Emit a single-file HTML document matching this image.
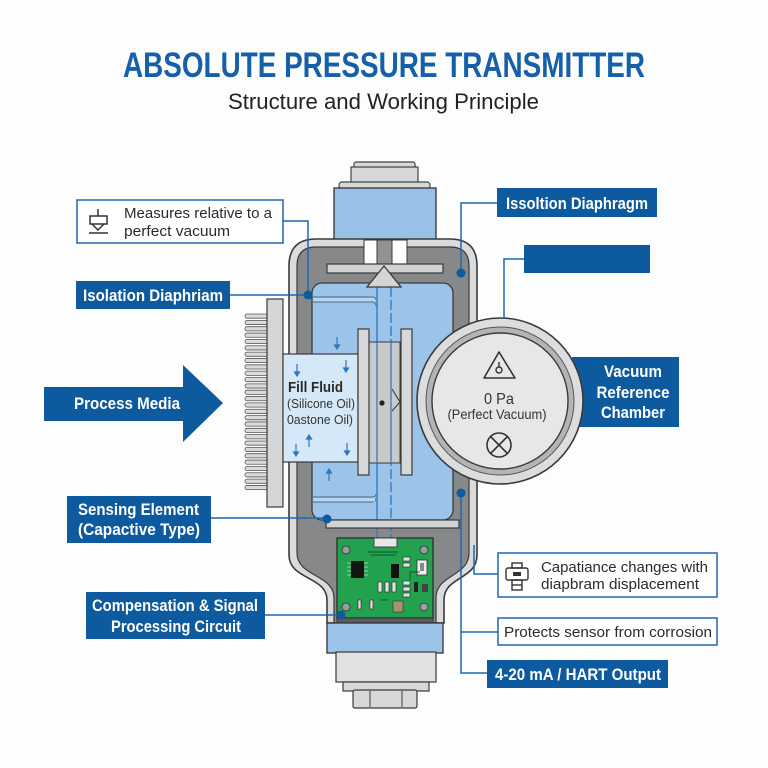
<!DOCTYPE html>
<html><head><meta charset="utf-8"><style>
html,body{margin:0;padding:0;background:#fff;}
svg{display:block;}
text{font-family:"Liberation Sans",sans-serif;}
</style></head><body>
<svg width="768" height="768" viewBox="0 0 768 768" xmlns="http://www.w3.org/2000/svg">
<rect width="768" height="768" fill="#fdfdfd"/>

<!-- Title -->
<text x="123" y="77" font-size="35" font-weight="bold" fill="#1560aa" textLength="522" lengthAdjust="spacingAndGlyphs">ABSOLUTE PRESSURE TRANSMITTER</text>
<text x="228" y="109" font-size="22" fill="#222" textLength="311" lengthAdjust="spacingAndGlyphs">Structure and Working Principle</text>

<!-- Vacuum reference chamber label box (behind circle) -->
<rect x="572" y="357" width="107" height="70" fill="#0d5a9e"/>
<text x="633" y="377" font-size="17" font-weight="bold" fill="#fff" text-anchor="middle" textLength="58" lengthAdjust="spacingAndGlyphs">Vacuum</text>
<text x="633" y="398" font-size="17" font-weight="bold" fill="#fff" text-anchor="middle" textLength="73" lengthAdjust="spacingAndGlyphs">Reference</text>
<text x="633" y="418" font-size="17" font-weight="bold" fill="#fff" text-anchor="middle" textLength="64" lengthAdjust="spacingAndGlyphs">Chamber</text>

<!-- Top cap -->
<rect x="354" y="162" width="61" height="7" rx="2" fill="#d6d8da" stroke="#444" stroke-width="1.2"/>
<rect x="351" y="167" width="67" height="16" fill="#d6d8da" stroke="#444" stroke-width="1.2"/>
<rect x="339" y="182" width="91" height="7" rx="3" fill="#d6d8da" stroke="#444" stroke-width="1.2"/>
<rect x="334" y="188" width="102" height="52" fill="#97c1e6" stroke="#333" stroke-width="1.3"/>

<!-- Housing -->
<path d="M289,266 Q289,239 316,239 L450,239 Q477,239 477,266 L477,555 C477,580 444,576 444,600 L444,623 L327,623 L327,600 C327,576 289,580 289,555 Z" fill="#d9dbdd" stroke="#3a3a3a" stroke-width="1.6"/>
<path d="M297,266 Q297,247 316,247 L450,247 Q469,247 469,266 L469,553 C469,577 436,574 436,598 L436,623 L334,623 L334,598 C334,574 297,577 297,553 Z" fill="#86888a" stroke="#3a3a3a" stroke-width="1.2"/>

<!-- slots -->
<rect x="377" y="240" width="15" height="24" fill="#909294" stroke="#3a3a3a" stroke-width="1"/>
<rect x="364" y="240" width="13" height="24" fill="#fff" stroke="#3a3a3a" stroke-width="1"/>
<rect x="392" y="240" width="15" height="24" fill="#fff" stroke="#3a3a3a" stroke-width="1"/>
<rect x="327" y="264" width="116" height="9" fill="#d0d2d4" stroke="#3a3a3a" stroke-width="1.2"/>

<!-- Chamber -->
<rect x="312" y="283" width="141" height="237" rx="10" fill="#9cc4e8" stroke="#3a3a3a" stroke-width="1.3"/>
<path d="M313,297 L372,297 Q376,297 376,300" fill="none" stroke="#4a6a88" stroke-width="0.9"/>
<path d="M313,302 L372,302 Q376,302 376,306" fill="none" stroke="#4a6a88" stroke-width="0.9"/>
<rect x="313" y="298" width="62" height="3.5" fill="#b8d6ef"/>
<path d="M313,497 L372,497 Q376,497 376,494" fill="none" stroke="#4a6a88" stroke-width="0.9"/>
<path d="M313,502 L372,502 Q376,502 376,498" fill="none" stroke="#4a6a88" stroke-width="0.9"/>
<rect x="313" y="498" width="62" height="3.5" fill="#b8d6ef"/>

<!-- vertical signal lines -->
<line x1="377" y1="287" x2="377" y2="538" stroke="#2a78c0" stroke-width="1.3"/>
<line x1="391" y1="287" x2="391" y2="538" stroke="#2a78c0" stroke-width="1.3" stroke-dasharray="10,3"/>

<polygon points="384,266 367,287 401,287" fill="#d3d5d7" stroke="#3a3a3a" stroke-width="1.3"/>

<!-- bottom bar -->
<rect x="326" y="520" width="133" height="8" fill="#d0d2d4" stroke="#3a3a3a" stroke-width="1.2"/>

<!-- Fins -->
<g fill="#d8dadc" stroke="#555" stroke-width="0.8">
<rect x="245" y="314" width="24" height="4.2" rx="2"/>
<rect x="245" y="320.35" width="24" height="4.2" rx="2"/>
<rect x="245" y="326.7" width="24" height="4.2" rx="2"/>
<rect x="245" y="333.05" width="24" height="4.2" rx="2"/>
<rect x="245" y="339.4" width="24" height="4.2" rx="2"/>
<rect x="245" y="345.75" width="24" height="4.2" rx="2"/>
<rect x="245" y="352.1" width="24" height="4.2" rx="2"/>
<rect x="245" y="358.45" width="24" height="4.2" rx="2"/>
<rect x="245" y="364.8" width="24" height="4.2" rx="2"/>
<rect x="245" y="371.15" width="24" height="4.2" rx="2"/>
<rect x="245" y="377.5" width="24" height="4.2" rx="2"/>
<rect x="245" y="383.85" width="24" height="4.2" rx="2"/>
<rect x="245" y="390.2" width="24" height="4.2" rx="2"/>
<rect x="245" y="396.55" width="24" height="4.2" rx="2"/>
<rect x="245" y="402.9" width="24" height="4.2" rx="2"/>
<rect x="245" y="409.25" width="24" height="4.2" rx="2"/>
<rect x="245" y="415.6" width="24" height="4.2" rx="2"/>
<rect x="245" y="421.95" width="24" height="4.2" rx="2"/>
<rect x="245" y="428.3" width="24" height="4.2" rx="2"/>
<rect x="245" y="434.65" width="24" height="4.2" rx="2"/>
<rect x="245" y="441" width="24" height="4.2" rx="2"/>
<rect x="245" y="447.35" width="24" height="4.2" rx="2"/>
<rect x="245" y="453.7" width="24" height="4.2" rx="2"/>
<rect x="245" y="460.05" width="24" height="4.2" rx="2"/>
<rect x="245" y="466.4" width="24" height="4.2" rx="2"/>
<rect x="245" y="472.75" width="24" height="4.2" rx="2"/>
<rect x="245" y="479.1" width="24" height="4.2" rx="2"/>
<rect x="245" y="485.45" width="24" height="4.2" rx="2"/>
</g>
<rect x="267" y="299" width="16" height="208" fill="#d4d6d8" stroke="#3a3a3a" stroke-width="1.2"/>

<!-- Fill fluid panel -->
<rect x="283" y="354" width="75" height="108" fill="#d5e8f7" stroke="#3a3a3a" stroke-width="1.2"/>
<text x="288" y="392" font-size="15" font-weight="bold" fill="#2a2a2a" textLength="55" lengthAdjust="spacingAndGlyphs">Fill Fluid</text>
<text x="287" y="408" font-size="13" fill="#333" textLength="68" lengthAdjust="spacingAndGlyphs">(Silicone Oil)</text>
<text x="287" y="424" font-size="13" fill="#333" textLength="66" lengthAdjust="spacingAndGlyphs">0astone Oil)</text>

<!-- small flow arrows -->
<g stroke="#2a78c0" stroke-width="1.2" fill="#2a78c0">
<line x1="337" y1="337" x2="337" y2="346"/><polygon points="334.5,345 339.5,345 337,349"/>
<line x1="297" y1="364" x2="297" y2="373"/><polygon points="294.5,372 299.5,372 297,376"/>
<line x1="346" y1="360" x2="346" y2="369"/><polygon points="343.5,368 348.5,368 346,372"/>
<line x1="309" y1="447" x2="309" y2="438"/><polygon points="306.5,439 311.5,439 309,435"/>
<line x1="296" y1="444" x2="296" y2="453"/><polygon points="293.5,452 298.5,452 296,456"/>
<line x1="347" y1="443" x2="347" y2="452"/><polygon points="344.5,451 349.5,451 347,455"/>
<line x1="329" y1="481" x2="329" y2="472"/><polygon points="326.5,473 331.5,473 329,469"/>
</g>

<!-- plates -->
<rect x="369" y="342" width="31" height="121" fill="#c8c9cb" stroke="#3a3a3a" stroke-width="1"/>
<line x1="377" y1="342" x2="377" y2="463" stroke="#2a78c0" stroke-width="1.2"/>
<line x1="391" y1="342" x2="391" y2="463" stroke="#2a78c0" stroke-width="1.2"/>
<rect x="358" y="329" width="11" height="146" fill="#d6d8da" stroke="#3a3a3a" stroke-width="1.2"/>
<rect x="401" y="329" width="11" height="146" fill="#d6d8da" stroke="#3a3a3a" stroke-width="1.2"/>
<polyline points="392,389 400,402 392,411" fill="none" stroke="#3a3a3a" stroke-width="1.1"/>
<circle cx="382" cy="403" r="2.6" fill="#222"/>

<!-- PCB -->
<rect x="337" y="538" width="96" height="80" fill="#22a24f" stroke="#2d2d2d" stroke-width="1.3"/>
<rect x="337" y="618" width="96" height="5" fill="#5a5c5e" stroke="#2d2d2d" stroke-width="0.8"/>
<rect x="374" y="538" width="23" height="9" fill="#e8e8e8" stroke="#444" stroke-width="1"/>
<g fill="#9a9c9e" stroke="#333" stroke-width="0.8">
<circle cx="346" cy="550" r="4"/><circle cx="424" cy="550" r="4"/>
<circle cx="346" cy="607" r="4"/><circle cx="424" cy="607" r="4"/>
</g>
<rect x="351" y="561" width="13" height="17" fill="#151515"/>
<g stroke="#ccc" stroke-width="0.8">
<line x1="347" y1="563" x2="351" y2="563"/><line x1="347" y1="567" x2="351" y2="567"/><line x1="347" y1="571" x2="351" y2="571"/><line x1="347" y1="575" x2="351" y2="575"/>
<line x1="364" y1="563" x2="368" y2="563"/><line x1="364" y1="567" x2="368" y2="567"/><line x1="364" y1="571" x2="368" y2="571"/><line x1="364" y1="575" x2="368" y2="575"/>
</g>
<rect x="391" y="564" width="8" height="14" fill="#111"/>
<rect x="417" y="560" width="10" height="15" fill="#eee" stroke="#333" stroke-width="0.8"/>
<rect x="420" y="563" width="4" height="8" fill="#888"/>
<g fill="#e0e0e0" stroke="#222" stroke-width="0.6">
<rect x="403" y="557" width="7" height="4"/><rect x="403" y="563" width="7" height="4"/>
<rect x="378" y="582" width="4" height="10"/><rect x="385" y="582" width="4" height="10"/><rect x="392" y="582" width="4" height="10"/>
<rect x="403" y="581" width="7" height="4"/><rect x="403" y="587" width="7" height="4"/><rect x="403" y="593" width="7" height="4"/>
<rect x="358" y="600" width="3" height="9"/><rect x="370" y="600" width="3" height="9"/>
</g>
<rect x="414" y="582" width="4" height="10" fill="#222"/>
<rect x="422" y="584" width="6" height="8" fill="#444"/>
<rect x="393" y="601" width="10" height="11" fill="#a89070" stroke="#333" stroke-width="0.6"/>
<g stroke="#0d3d1c" stroke-width="0.7" fill="none">
<path d="M368,552 h30"/><path d="M371,555 h25"/><path d="M410,580 v-8 h10"/><path d="M380,600 h8"/>
</g>

<!-- lower collar and connector -->
<rect x="327" y="623" width="116" height="30" fill="#9cc4e8" stroke="#333" stroke-width="1.3"/>
<rect x="336" y="652" width="100" height="30" fill="#e0e1e2" stroke="#3a3a3a" stroke-width="1.2"/>
<rect x="343" y="682" width="86" height="9" fill="#d6d8da" stroke="#3a3a3a" stroke-width="1.2"/>
<rect x="353" y="690" width="64" height="18" rx="2" fill="#d6d8da" stroke="#3a3a3a" stroke-width="1.2"/>
<line x1="370" y1="691" x2="370" y2="707" stroke="#3a3a3a" stroke-width="1"/>
<line x1="402" y1="691" x2="402" y2="707" stroke="#3a3a3a" stroke-width="1"/>

<!-- Vacuum circle -->
<circle cx="500" cy="401" r="83" fill="#dcdddf" stroke="#3a3a3a" stroke-width="1.6"/>
<circle cx="500" cy="401" r="74" fill="#b2b4b6" stroke="#555" stroke-width="1"/>
<circle cx="500" cy="401" r="68" fill="#e6e7e8" stroke="#3a3a3a" stroke-width="1.4"/>
<polygon points="499,352 484,378 515,378" fill="none" stroke="#333" stroke-width="1.6" stroke-linejoin="round"/>
<circle cx="499" cy="370" r="3" fill="none" stroke="#333" stroke-width="1.4"/>
<line x1="499" y1="362" x2="499" y2="367" stroke="#333" stroke-width="1.4"/>
<text x="499" y="404" font-size="16" fill="#333" text-anchor="middle" textLength="30" lengthAdjust="spacingAndGlyphs">0 Pa</text>
<text x="497" y="419" font-size="14" fill="#333" text-anchor="middle" textLength="99" lengthAdjust="spacingAndGlyphs">(Perfect Vacuum)</text>
<circle cx="499" cy="445" r="12" fill="none" stroke="#333" stroke-width="1.6"/>
<line x1="491" y1="437" x2="507" y2="453" stroke="#333" stroke-width="1.6"/>
<line x1="507" y1="437" x2="491" y2="453" stroke="#333" stroke-width="1.6"/>

<!-- Process media arrow -->
<polygon points="44,387 183,387 183,365 223,403 183,442 183,421 44,421" fill="#0d5a9e"/>
<text x="127" y="409" font-size="16.5" font-weight="bold" fill="#fff" text-anchor="middle" textLength="106" lengthAdjust="spacingAndGlyphs">Process Media</text>

<!-- Connectors -->
<g stroke="#1a68b0" stroke-width="1.5" fill="none">
<path d="M283,221 H308 V295"/>
<path d="M230,295 H308"/>
<path d="M211,518 H327"/>
<path d="M265,615 H341"/>
<path d="M497,203 H461 V273"/>
<path d="M524,259 H504 V318"/>
<path d="M461,493 V673 H487"/>
<path d="M498,632 H461"/>
<path d="M498,574 H474 V545"/>
</g>
<g fill="#0d5a9e">
<circle cx="308" cy="295" r="4.5"/>
<circle cx="461" cy="273" r="4.5"/>
<circle cx="461" cy="493" r="4.5"/>
<circle cx="327" cy="519" r="4.5"/>
<circle cx="341" cy="615" r="4.5"/>
</g>

<!-- Blue labels -->
<rect x="76" y="281" width="154" height="28" fill="#0d5a9e"/>
<text x="83" y="301" font-size="16.5" font-weight="bold" fill="#fff" textLength="140" lengthAdjust="spacingAndGlyphs">Isolation Diaphriam</text>

<rect x="67" y="496" width="144" height="47" fill="#0d5a9e"/>
<text x="78" y="515" font-size="16.5" font-weight="bold" fill="#fff" textLength="121" lengthAdjust="spacingAndGlyphs">Sensing Element</text>
<text x="78" y="535" font-size="16.5" font-weight="bold" fill="#fff" textLength="122" lengthAdjust="spacingAndGlyphs">(Capactive Type)</text>

<rect x="86" y="592" width="179" height="47" fill="#0d5a9e"/>
<text x="92" y="611" font-size="16.5" font-weight="bold" fill="#fff" textLength="166" lengthAdjust="spacingAndGlyphs">Compensation &amp; Signal</text>
<text x="111" y="632" font-size="16.5" font-weight="bold" fill="#fff" textLength="130" lengthAdjust="spacingAndGlyphs">Processing Circuit</text>

<rect x="497" y="188" width="160" height="29" fill="#0d5a9e"/>
<text x="506" y="209" font-size="16.5" font-weight="bold" fill="#fff" textLength="142" lengthAdjust="spacingAndGlyphs">Issoltion Diaphragm</text>

<rect x="524" y="245" width="126" height="28" fill="#0d5a9e"/>

<rect x="487" y="660" width="181" height="28" fill="#0d5a9e"/>
<text x="495" y="680" font-size="16.5" font-weight="bold" fill="#fff" textLength="166" lengthAdjust="spacingAndGlyphs">4-20 mA / HART Output</text>

<!-- White labels -->
<rect x="77" y="200" width="206" height="43" fill="#fff" stroke="#1a68b0" stroke-width="1.5"/>
<g stroke="#333" stroke-width="1.5" fill="none">
<path d="M98,209 V216"/>
<rect x="90" y="216" width="17" height="8"/>
<path d="M92,224 L98,230 L104,224"/>
<path d="M89,233 H108"/>
</g>
<text x="124" y="218" font-size="15" fill="#2b2b2b" textLength="148" lengthAdjust="spacingAndGlyphs">Measures relative to a</text>
<text x="124" y="236" font-size="15" fill="#2b2b2b" textLength="106" lengthAdjust="spacingAndGlyphs">perfect vacuum</text>

<rect x="498" y="553" width="219" height="44" fill="#fff" stroke="#1a68b0" stroke-width="1.5"/>
<g stroke="#333" stroke-width="1.4" fill="none">
<rect x="512" y="563" width="10" height="5"/>
<rect x="506" y="568" width="22" height="12" rx="2"/>
<rect x="512" y="580" width="10" height="10"/>
<line x1="512" y1="585" x2="522" y2="585"/>
</g>
<rect x="513" y="572" width="8" height="4" fill="#333"/>
<text x="541" y="572" font-size="15" fill="#2b2b2b" textLength="167" lengthAdjust="spacingAndGlyphs">Capatiance changes with</text>
<text x="541" y="589" font-size="15" fill="#2b2b2b" textLength="158" lengthAdjust="spacingAndGlyphs">diapbram displacement</text>

<rect x="498" y="618" width="219" height="27" fill="#fff" stroke="#1a68b0" stroke-width="1.5"/>
<text x="504" y="637" font-size="15" fill="#2b2b2b" textLength="208" lengthAdjust="spacingAndGlyphs">Protects sensor from corrosion</text>

</svg>
</body></html>
